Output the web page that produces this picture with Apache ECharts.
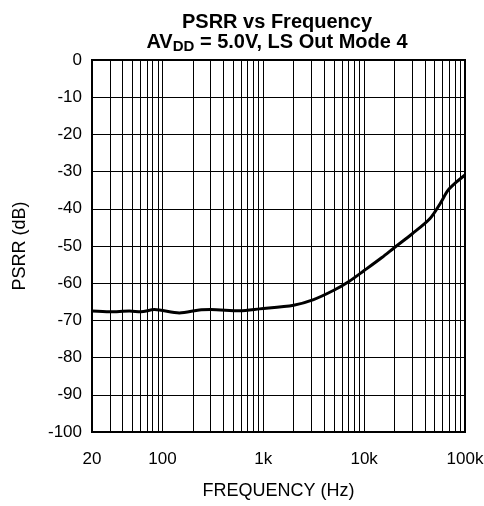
<!DOCTYPE html>
<html>
<head>
<meta charset="utf-8">
<script src="https://cdn.jsdelivr.net/npm/echarts@6/dist/echarts.min.js"></script>
<style>
  html, body { margin: 0; padding: 0; background: #fff; }
  #chart { width: 484px; height: 506px; }
</style>
</head>
<body>
<div id="chart"></div>
<script>
// PSRR curve
const freqs = [20, 30, 47, 61, 83, 147, 232, 300, 580, 920, 2000, 3150, 5000, 7000, 10000, 15000, 20000, 30000, 45000, 57000, 68000, 83000, 100000]
const psrr = [-67.5, -67.7, -67.5, -67.7, -67.1, -68.0, -67.2, -67.1, -67.4, -66.9, -65.9, -64.4, -61.9, -59.6, -56.6, -53.1, -50.4, -46.7, -42.6, -38.5, -35.0, -32.7, -30.9]
// log grid lines between the decades
const minorFreqs = [30, 40, 50, 60, 70, 80, 90,
  200, 300, 400, 500, 600, 700, 800, 900,
  2000, 3000, 4000, 5000, 6000, 7000, 8000, 9000,
  20000, 30000, 40000, 50000, 60000, 70000, 80000, 90000]
const yTicks = { min: -100, max: 0, step: 10 }

const font = 'Liberation Sans, Arial, sans-serif'
const chart = echarts.init(document.getElementById('chart'))

const fmtFreq = (v) => {
  const r = Math.round(v)
  return r >= 1000 ? (r / 1000) + 'k' : String(r)
}

const option = {
  animation: false,
  title: {
    left: 272,
    top: 7,
    textAlign: 'center',
    text: 'PSRR vs Frequency',
    subtext: '{b|AV}{s|DD}{b| = 5.0V, LS Out Mode 4}',
    itemGap: 0,
    textStyle: { fontFamily: font, fontSize: 20, fontWeight: 'bold', color: '#000', lineHeight: 20 },
    subtextStyle: {
      rich: {
        b: { fontFamily: font, fontSize: 20, fontWeight: 'bold', color: '#000', lineHeight: 22, verticalAlign: 'top' },
        s: { fontFamily: font, fontSize: 15, fontWeight: 'bold', color: '#000', lineHeight: 22, verticalAlign: 'bottom', padding: [9, 0, 0, 0] }
      }
    }
  },
  grid: {
    left: 92, right: 19, top: 60, bottom: 74,
    outerBoundsMode: 'none',
    show: true, borderColor: '#000', borderWidth: 2
  },
  xAxis: {
    type: 'log',
    logBase: 10,
    min: freqs[0],
    max: freqs[freqs.length - 1],
    name: 'FREQUENCY (Hz)',
    nameLocation: 'middle',
    nameGap: 50,
    nameTextStyle: { fontFamily: font, fontSize: 18, color: '#000' },
    axisLine: { show: true, lineStyle: { color: '#000', width: 2 } },
    axisTick: { show: false },
    axisLabel: {
      fontFamily: font, fontSize: 17, color: '#000', margin: 19,
      showMinLabel: true, showMaxLabel: true,
      formatter: fmtFreq
    },
    splitLine: { show: true, lineStyle: { color: '#000', width: 1 } }
  },
  yAxis: {
    type: 'value',
    min: yTicks.min,
    max: yTicks.max,
    interval: yTicks.step,
    name: 'PSRR (dB)',
    nameLocation: 'middle',
    nameGap: 63,
    nameTextStyle: { fontFamily: font, fontSize: 18, color: '#000' },
    axisLine: { show: true, lineStyle: { color: '#000', width: 2 } },
    axisTick: { show: false },
    axisLabel: { fontFamily: font, fontSize: 17, color: '#000', margin: 10 },
    splitLine: { show: true, lineStyle: { color: '#000', width: 1 } }
  },
  series: [
    {
      type: 'line',
      data: freqs.map((f, i) => [f, psrr[i]]),
      smooth: 0.3,
      symbol: 'none',
      lineStyle: { color: '#000', width: 3 },
      z: 5,
      markLine: {
        silent: true,
        symbol: 'none',
        label: { show: false },
        lineStyle: { color: '#000', width: 1, type: 'solid' },
        data: minorFreqs.map(f => ({ xAxis: f }))
      }
    }
  ]
}
chart.setOption(option)
</script>
</body>
</html>
